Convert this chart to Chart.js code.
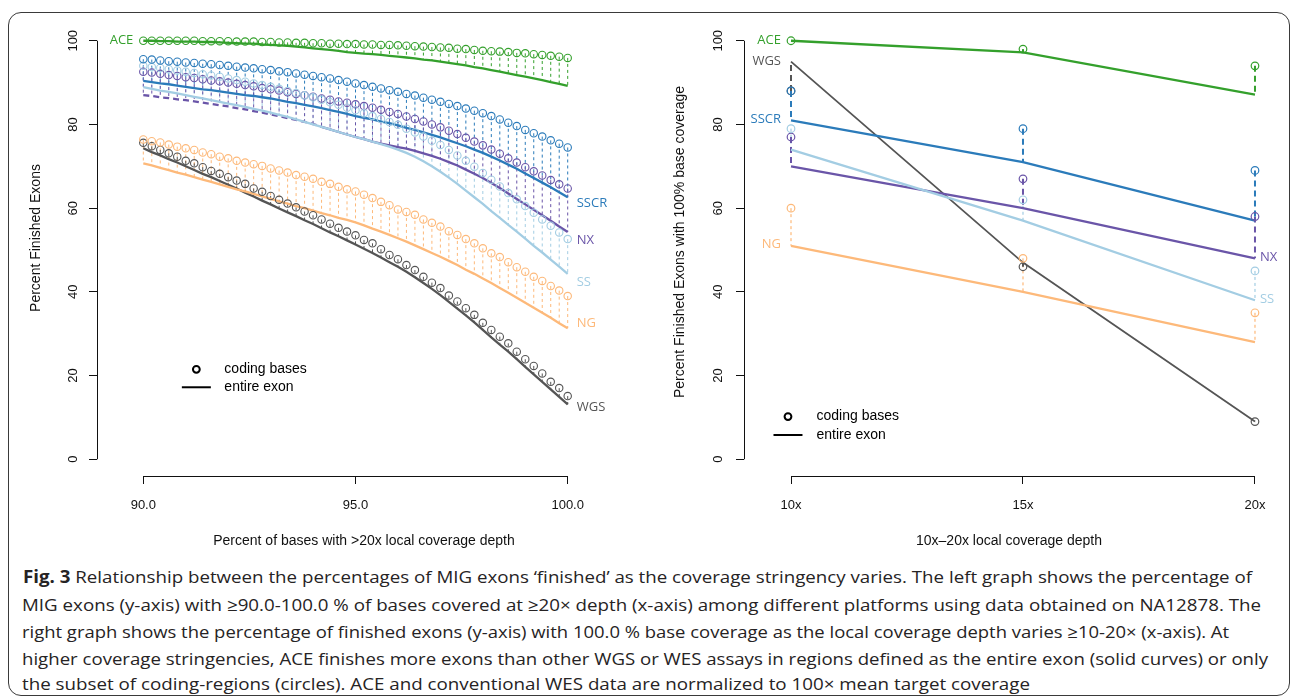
<!DOCTYPE html>
<html>
<head>
<meta charset="utf-8">
<script src="https://cdn.jsdelivr.net/npm/chart.js@4.4.1/dist/chart.umd.min.js"></script>
<style>
  html, body { margin: 0; padding: 0; background: #fff; }
  body { width: 1295px; height: 699px; position: relative; overflow: hidden; }
  #frame { position: absolute; left: 8px; top: 12px; width: 1282px; height: 684px;
           border: 1.3px solid #3a3a3a; border-radius: 13px; box-sizing: border-box; }
  #left  { position: absolute; left: 0; top: 0; }
  #right { position: absolute; left: 650px; top: 0; }
  .cap { position: absolute; left: 0; top: 0; font-family: "Open Sans", "Noto Sans", sans-serif;
         font-size: 17px; color: #262324; white-space: nowrap; line-height: 20px; }
  .cap span { display: inline-block; transform-origin: 0 50%; }
</style>
</head>
<body>
<div id="frame"></div>
<canvas id="left" width="650" height="560"></canvas>
<canvas id="right" width="645" height="560"></canvas>

<div class="cap" style="left:23px; top:567px;"><span data-w="1229"><b>Fig. 3</b> Relationship between the percentages of MIG exons ‘finished’ as the coverage stringency varies. The left graph shows the percentage of</span></div>
<div class="cap" style="left:22px; top:595px;"><span data-w="1239">MIG exons (y-axis) with ≥90.0-100.0 % of bases covered at ≥20× depth (x-axis) among different platforms using data obtained on NA12878. The</span></div>
<div class="cap" style="left:22px; top:622px;"><span data-w="1207">right graph shows the percentage of finished exons (y-axis) with 100.0 % base coverage as the local coverage depth varies ≥10-20× (x-axis). At</span></div>
<div class="cap" style="left:22px; top:649px;"><span data-w="1246">higher coverage stringencies, ACE finishes more exons than other WGS or WES assays in regions defined as the entire exon (solid curves) or only</span></div>
<div class="cap" style="left:22px; top:674px;"><span data-w="1008">the subset of coding-regions (circles). ACE and conventional WES data are normalized to 100× mean target coverage</span></div>

<script>
// ---------- Left panel: percent of bases with >20x depth ----------
const pctCovered = [90.0,90.2,90.4,90.6,90.8,91.0,91.2,91.4,91.6,91.8,92.0,92.2,92.4,92.6,92.8,93.0,93.2,93.4,93.6,93.8,94.0,94.2,94.4,94.6,94.8,95.0,95.2,95.4,95.6,95.8,96.0,96.2,96.4,96.6,96.8,97.0,97.2,97.4,97.6,97.8,98.0,98.2,98.4,98.6,98.8,99.0,99.2,99.4,99.6,99.8,100.0];
const pctTicks = [90, 95, 100];
const pctTickLabels = ['90.0', '95.0', '100.0'];
const yTicks = [0, 20, 40, 60, 80, 100];

// coding bases (circles)
const aceCoding  = [100,100,100,100,100,100,100,99.9,99.9,99.9,99.9,99.8,99.8,99.8,99.7,99.7,99.6,99.6,99.5,99.5,99.4,99.4,99.3,99.3,99.2,99.2,99.1,99.1,99.0,99.0,98.9,98.8,98.7,98.6,98.5,98.4,98.3,98.1,98.0,97.8,97.6,97.5,97.4,97.3,97.1,97.0,96.8,96.6,96.4,96.2,95.9];
const sscrCoding = [95.6,95.5,95.3,95.1,95.0,94.8,94.7,94.5,94.4,94.2,94.0,93.8,93.6,93.4,93.2,93.0,92.7,92.5,92.2,91.9,91.6,91.3,91.0,90.6,90.2,89.8,89.4,89.0,88.6,88.2,87.8,87.3,86.9,86.4,85.9,85.4,84.9,84.4,83.8,83.3,82.7,82.0,81.2,80.4,79.6,78.7,77.9,77.1,76.2,75.4,74.5];
const nxCoding   = [92.6,92.4,92.1,91.8,91.6,91.3,91.1,90.8,90.5,90.3,90.0,89.7,89.4,89.1,88.7,88.4,88.1,87.7,87.3,87.0,86.6,86.2,85.9,85.5,85.2,84.8,84.4,84.0,83.5,83.0,82.5,81.9,81.3,80.7,80.0,79.3,78.5,77.7,76.8,75.9,75.0,74.0,73.0,71.9,70.9,69.8,68.8,67.8,66.7,65.7,64.7];
const ssCoding   = [94.0,93.7,93.5,93.2,92.9,92.6,92.3,92.0,91.7,91.4,91.0,90.6,90.2,89.8,89.4,89.0,88.5,88.0,87.5,87.0,86.5,85.9,85.3,84.7,84.0,83.4,82.7,82.0,81.3,80.6,79.9,79.0,78.1,77.1,76.1,75.1,73.9,72.6,71.3,69.9,68.4,66.8,65.2,63.6,62.1,60.5,58.9,57.3,55.8,54.2,52.6];
const ngCoding   = [76.4,76.0,75.7,75.2,74.7,74.3,73.9,73.3,72.9,72.3,71.9,71.3,70.9,70.5,70.1,69.5,69.0,68.5,67.9,67.5,67.0,66.3,65.8,65.1,64.5,64.0,63.2,62.4,61.5,60.7,59.7,59.1,58.4,57.3,56.5,55.6,54.5,53.6,52.6,51.6,50.4,49.2,48.3,47.1,45.9,44.8,43.6,42.6,41.4,40.3,39.0];
const wgsCoding  = [75.6,74.8,73.9,73.1,72.3,71.3,70.7,69.8,68.9,68.2,67.4,66.6,65.8,64.7,63.9,62.9,62.0,61.1,60.2,59.2,58.3,57.3,56.3,55.3,54.4,53.5,52.4,51.6,50.2,48.8,47.8,46.4,45.2,43.6,42.2,40.9,39.1,37.7,36.1,34.5,32.6,30.9,29.3,27.7,25.7,23.9,22.3,20.5,18.5,17.0,15.1];

// entire exon (solid curves)
const aceExon  = [100,100,99.9,99.9,99.8,99.8,99.8,99.7,99.7,99.6,99.5,99.4,99.3,99.3,99.1,99.0,98.9,98.8,98.6,98.4,98.2,98.0,97.8,97.6,97.3,97.1,96.9,96.8,96.6,96.4,96.2,96.0,95.8,95.5,95.3,95.0,94.7,94.4,94.1,93.7,93.4,93.0,92.6,92.2,91.8,91.4,91.0,90.6,90.1,89.7,89.2];
const sscrExon = [90.4,90.1,89.8,89.6,89.3,89.0,88.7,88.4,88.2,87.9,87.6,87.3,87.0,86.8,86.5,86.2,85.8,85.4,85.1,84.7,84.3,83.9,83.4,83.0,82.5,82.0,81.6,81.2,80.7,80.3,79.8,79.2,78.7,78.1,77.5,76.9,76.2,75.5,74.8,74.0,73.2,72.3,71.4,70.4,69.4,68.3,67.2,66.1,65.0,63.8,62.6];
const nxExon   = [87.0,86.8,86.5,86.3,86.0,85.8,85.5,85.2,84.9,84.6,84.3,83.9,83.6,83.2,82.8,82.4,82.0,81.5,81.1,80.6,80.1,79.4,78.8,78.2,77.6,77.0,76.5,75.9,75.4,75.0,74.6,74.2,73.7,73.1,72.5,71.8,71.0,70.2,69.2,68.2,67.2,66.0,64.8,63.5,62.2,60.9,59.6,58.3,57.0,55.6,54.3];
const ssExon   = [88.9,88.5,88.1,87.8,87.4,87.0,86.6,86.2,85.8,85.4,85.0,84.6,84.2,83.7,83.3,82.8,82.3,81.8,81.2,80.6,80.0,79.4,78.8,78.2,77.6,77.0,76.5,75.9,75.3,74.7,74.0,73.2,72.3,71.2,70.0,68.7,67.3,65.8,64.2,62.6,61.0,59.3,57.7,56.0,54.4,52.7,51.0,49.4,47.7,46.0,44.3];
const ngExon   = [70.7,70.2,69.6,69.1,68.5,68.0,67.4,66.8,66.3,65.7,65.1,64.5,64.0,63.4,62.8,62.2,61.6,61.1,60.5,60.0,59.4,58.8,58.3,57.7,57.2,56.6,55.9,55.1,54.4,53.6,52.8,52.0,51.1,50.2,49.3,48.4,47.4,46.4,45.3,44.3,43.2,42.1,40.9,39.8,38.6,37.4,36.2,35.0,33.8,32.5,31.3];
const wgsExon  = [74.3,73.4,72.6,71.7,70.9,70.0,69.1,68.2,67.4,66.5,65.6,64.7,63.7,62.8,61.8,60.9,59.9,59.0,58.1,57.1,56.2,55.2,54.2,53.3,52.3,51.3,50.3,49.3,48.2,47.1,46.0,44.8,43.5,42.1,40.7,39.2,37.6,36.0,34.4,32.7,30.9,29.1,27.4,25.7,23.9,22.1,20.3,18.5,16.7,14.9,13.1];

// ---------- Right panel: 10x-20x local coverage depth ----------
const depth = [10, 15, 20];
const depthTickLabels = ['10x', '15x', '20x'];
const aceCodingD  = [100, 98, 94];
const wgsCodingD  = [88, 46, 9];
const sscrCodingD = [88, 79, 69];
const ssCodingD   = [79, 62, 45];
const nxCodingD   = [77, 67, 58];
const ngCodingD   = [60, 48, 35];
const aceExonD  = [100, 97.2, 87.1];
const wgsExonD  = [95, 47, 9];
const sscrExonD = [81, 71, 57];
const ssExonD   = [74, 57, 38];
const nxExonD   = [70, 60, 48];
const ngExonD   = [51, 40, 28];

const colors = {
  ACE: '#34a02c', SSCR: '#2b7bba', SS: '#a3cde3', NX: '#6a55a8', NG: '#fdb97a', WGS: '#555555'
};

const leftSeries = [
  { name: 'ACE',  coding: aceCoding,  exon: aceExon },
  { name: 'SSCR', coding: sscrCoding, exon: sscrExon },
  { name: 'SS',   coding: ssCoding,   exon: ssExon },
  { name: 'NX',   coding: nxCoding,   exon: nxExon },
  { name: 'NG',   coding: ngCoding,   exon: ngExon },
  { name: 'WGS',  coding: wgsCoding,  exon: wgsExon }
];
const rightSeries = [
  { name: 'ACE',  coding: aceCodingD,  exon: aceExonD },
  { name: 'SS',   coding: ssCodingD,   exon: ssExonD },
  { name: 'NG',   coding: ngCodingD,   exon: ngExonD },
  { name: 'NX',   coding: nxCodingD,   exon: nxExonD },
  { name: 'SSCR', coding: sscrCodingD, exon: sscrExonD },
  { name: 'WGS',  coding: wgsCodingD,  exon: wgsExonD }
];

const AXIS_FONT = '"Liberation Sans", Arial, sans-serif';
const LABEL_FONT = '"Open Sans", "Noto Sans", sans-serif';

const zip = (xs, ys) => xs.map((x, i) => ({ x, y: ys[i] }));

function buildDatasets(xs, series, opt) {
  const out = [];
  series.forEach(s => {
    const c = colors[s.name];
    const line = {
      label: s.name + ' entire exon', data: zip(xs, s.exon), showLine: true,
      borderColor: c, backgroundColor: c, borderWidth: (opt.lineWidth[s.name] || opt.lineWidth.def),
      pointRadius: 0, tension: 0, order: 2, clip: false
    };
    if (opt.dashUntil && opt.dashUntil[s.name] !== undefined) {
      const lim = opt.dashUntil[s.name];
      line.segment = { borderDash: ctx => (ctx.p1.parsed.x <= lim ? [6, 4] : undefined) };
    }
    out.push(line);
    out.push({
      label: s.name + ' coding bases', data: zip(xs, s.coding), showLine: false,
      borderColor: c, backgroundColor: 'rgba(255,255,255,0)', pointBorderColor: c,
      pointBackgroundColor: 'rgba(255,255,255,0)', pointRadius: opt.pointRadius,
      pointBorderWidth: opt.pointBorder, pointHoverRadius: opt.pointRadius, order: 1, clip: false
    });
  });
  return out;
}

// R-style axes, stems between circle and curve, labels and legend
function makeDecor(cfg) {
  return {
    id: 'decor',
    beforeDatasetsDraw(chart) {
      const { ctx, scales: { x, y } } = chart;
      ctx.save();
      cfg.series.forEach(s => {
        const st = cfg.stem(s.name);
        ctx.strokeStyle = colors[s.name];
        ctx.lineWidth = st.w;
        ctx.setLineDash(st.dash);
        cfg.xs.forEach((xv, i) => {
          const px = x.getPixelForValue(xv);
          ctx.beginPath();
          ctx.moveTo(px, y.getPixelForValue(s.coding[i]));
          ctx.lineTo(px, y.getPixelForValue(s.exon[i]));
          ctx.stroke();
        });
      });
      ctx.restore();
    },
    afterDraw(chart) {
      const { ctx, chartArea: a, scales: { x, y } } = chart;
      ctx.save();
      ctx.strokeStyle = '#111';
      ctx.lineWidth = 1;
      // axis lines over the tick range only
      const yl = Math.round(a.left) + 0.5;
      ctx.beginPath();
      ctx.moveTo(yl, y.getPixelForValue(yTicks[0]));
      ctx.lineTo(yl, y.getPixelForValue(yTicks[yTicks.length - 1]));
      ctx.stroke();
      const xb = Math.round(a.bottom) + 0.5;
      ctx.beginPath();
      ctx.moveTo(x.getPixelForValue(cfg.xTicks[0]), xb);
      ctx.lineTo(x.getPixelForValue(cfg.xTicks[cfg.xTicks.length - 1]), xb);
      ctx.stroke();

      // rotated y tick labels
      ctx.fillStyle = '#111';
      ctx.font = '13px ' + AXIS_FONT;
      ctx.textAlign = 'center';
      ctx.textBaseline = 'middle';
      yTicks.forEach(v => {
        ctx.save();
        ctx.translate(cfg.yLabelX, y.getPixelForValue(v));
        ctx.rotate(-Math.PI / 2);
        ctx.fillText(String(v), 0, 0);
        ctx.restore();
      });

      // axis titles
      ctx.font = '14px ' + AXIS_FONT;
      ctx.save();
      ctx.translate(cfg.yTitle.x, cfg.yTitle.y);
      ctx.rotate(-Math.PI / 2);
      ctx.fillText(cfg.yTitle.text, 0, 0);
      ctx.restore();
      ctx.fillText(cfg.xTitle.text, cfg.xTitle.x, cfg.xTitle.y);

      // series names
      ctx.font = '13px ' + LABEL_FONT;
      cfg.names.forEach(n => {
        ctx.fillStyle = colors[n.name];
        ctx.textAlign = n.side === 'left' ? 'right' : 'left';
        const px = x.getPixelForValue(n.x) + (n.side === 'left' ? -n.gap : n.gap);
        ctx.fillText(n.name, px, y.getPixelForValue(n.y));
      });

      // legend
      const L = cfg.legend;
      const lx = x.getPixelForValue(L.x), ly1 = y.getPixelForValue(L.y1), ly2 = y.getPixelForValue(L.y2);
      ctx.strokeStyle = '#000';
      ctx.lineWidth = 2;
      ctx.beginPath();
      ctx.arc(lx, ly1, 3.4, 0, Math.PI * 2);
      ctx.stroke();
      ctx.beginPath();
      ctx.moveTo(lx - 14.5, ly2);
      ctx.lineTo(lx + 14.5, ly2);
      ctx.stroke();
      ctx.fillStyle = '#000';
      ctx.font = '14px ' + AXIS_FONT;
      ctx.textAlign = 'left';
      ctx.fillText('coding bases', lx + L.textGap, ly1);
      ctx.fillText('entire exon', lx + L.textGap, ly2);
      ctx.restore();
    }
  };
}

function scaleOpts(min, max, ticks, labels, fitSize) {
  return {
    x: {
      type: 'linear', min: min, max: max,
      afterBuildTicks: s => { s.ticks = ticks.map(v => ({ value: v })); },
      afterFit: s => { s.height = fitSize.h; },
      border: { display: false },
      grid: { display: true, drawOnChartArea: false, drawTicks: true, tickLength: 8, color: '#111', lineWidth: 1 },
      ticks: {
        display: true, padding: 14, color: '#111', maxRotation: 0, autoSkip: false,
        font: { family: AXIS_FONT, size: 13 },
        callback: (v) => { const i = ticks.indexOf(v); return i >= 0 ? labels[i] : ''; }
      }
    },
    y: {
      type: 'linear', min: -4, max: 104,
      afterBuildTicks: s => { s.ticks = yTicks.map(v => ({ value: v })); },
      afterFit: s => { s.width = fitSize.w; },
      border: { display: false },
      grid: { display: true, drawOnChartArea: false, drawTicks: true, tickLength: 8, color: '#111', lineWidth: 1 },
      ticks: { display: false }
    }
  };
}

const common = {
  responsive: false, animation: false, devicePixelRatio: 1,
  plugins: { legend: { display: false }, tooltip: { enabled: false } },
  events: []
};

// Left chart
new Chart(document.getElementById('left'), {
  type: 'scatter',
  data: {
    datasets: buildDatasets(pctCovered, leftSeries, {
      lineWidth: { def: 2.3 }, pointRadius: 3.7, pointBorder: 1.1, dashUntil: { NX: 94.2 }
    })
  },
  options: Object.assign({}, common, {
    layout: { padding: { left: 0, right: 36, top: 24, bottom: 0 } },
    scales: scaleOpts(88.909, 101.091, pctTicks, pctTickLabels, { w: 97, h: 84 })
  }),
  plugins: [makeDecor({
    series: leftSeries, xs: pctCovered, xTicks: pctTicks,
    stem: () => ({ w: 1, dash: [3, 3] }),
    yLabelX: 73,
    yTitle: { text: 'Percent Finished Exons', x: 36, y: 238 },
    xTitle: { text: 'Percent of bases with >20x local coverage depth', x: 364, y: 541 },
    names: [
      { name: 'ACE', x: 90, y: 100, side: 'left', gap: 10 },
      { name: 'SSCR', x: 100, y: 61.2, side: 'right', gap: 9 },
      { name: 'NX', x: 100, y: 52.4, side: 'right', gap: 9 },
      { name: 'SS', x: 100, y: 42.4, side: 'right', gap: 9 },
      { name: 'NG', x: 100, y: 32.5, side: 'right', gap: 9 },
      { name: 'WGS', x: 100, y: 12.4, side: 'right', gap: 9 }
    ],
    legend: { x: 91.25, y1: 21.5, y2: 17.2, textGap: 28 }
  })]
});

// Right chart
new Chart(document.getElementById('right'), {
  type: 'scatter',
  data: {
    datasets: buildDatasets(depth, rightSeries, {
      lineWidth: { def: 2.3, WGS: 1.8 }, pointRadius: 3.8, pointBorder: 1.2
    })
  },
  options: Object.assign({}, common, {
    layout: { padding: { left: 0, right: 10, top: 24, bottom: 0 } },
    scales: scaleOpts(8.987, 20.647, depth, depthTickLabels, { w: 94, h: 84 })
  }),
  plugins: [makeDecor({
    series: rightSeries, xs: depth, xTicks: depth,
    stem: n => (n === 'SS' || n === 'NG') ? { w: 1.2, dash: [3, 3] } : { w: 2, dash: [6, 4] },
    yLabelX: 68,
    yTitle: { text: 'Percent Finished Exons with 100% base coverage', x: 30, y: 242 },
    xTitle: { text: '10x\u201320x local coverage depth', x: 359, y: 541 },
    names: [
      { name: 'ACE', x: 10, y: 100, side: 'left', gap: 10 },
      { name: 'WGS', x: 10, y: 95.2, side: 'left', gap: 10 },
      { name: 'SSCR', x: 10, y: 81.3, side: 'left', gap: 10 },
      { name: 'NG', x: 10, y: 51.4, side: 'left', gap: 10 },
      { name: 'NX', x: 20, y: 48.3, side: 'right', gap: 5 },
      { name: 'SS', x: 20, y: 38.3, side: 'right', gap: 5 }
    ],
    legend: { x: 9.935, y1: 10.2, y2: 5.8, textGap: 28.5 }
  })]
});

// caption lines: stretch each line to its measured width
document.querySelectorAll('.cap span').forEach(el => {
  const target = +el.dataset.w;
  const w = el.getBoundingClientRect().width;
  if (w > 0) el.style.transform = 'scaleX(' + (target / w).toFixed(4) + ')';
});
</script>
</body>
</html>
